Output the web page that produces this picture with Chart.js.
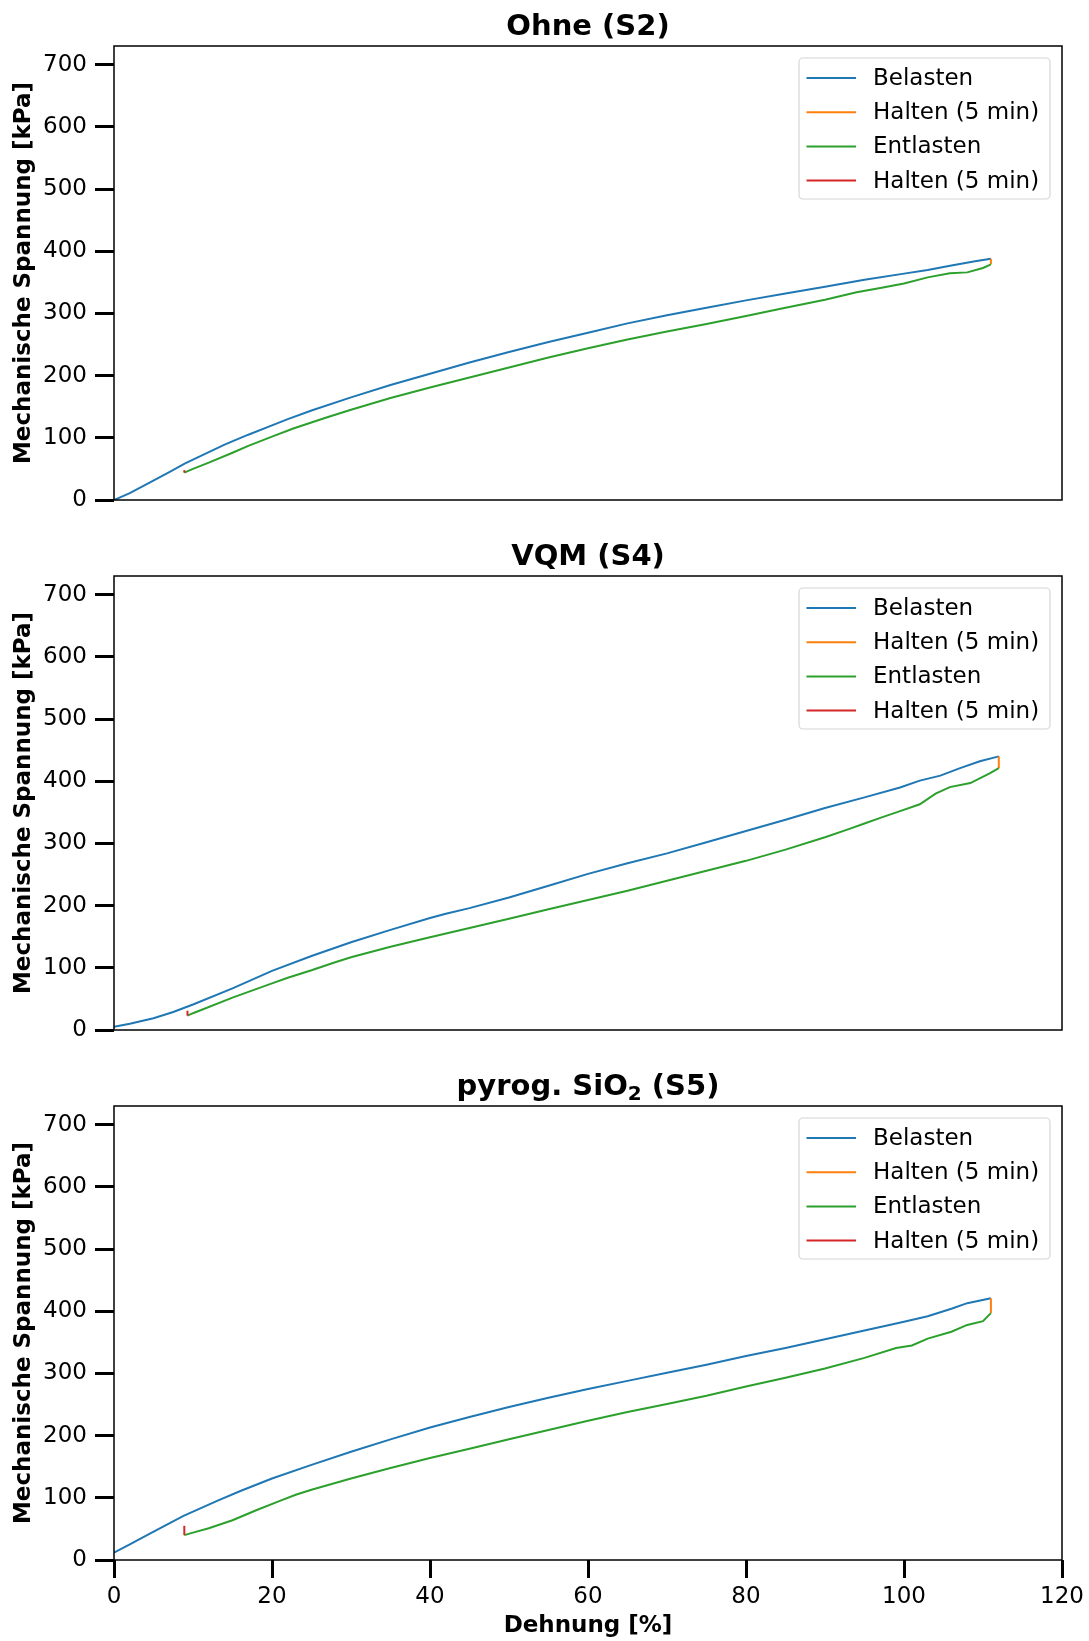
<!DOCTYPE html>
<html>
<head>
<meta charset="utf-8">
<script src="https://cdn.jsdelivr.net/npm/chart.js@4.4.1/dist/chart.umd.min.js"></script>
<style>
  html, body { margin: 0; padding: 0; background: #fff; }
  body { width: 1089px; height: 1641px; position: relative; overflow: hidden; }
  canvas { position: absolute; left: 0; }
</style>
</head>
<body>
<canvas id="s2" width="1089" height="530" style="top:0px"></canvas>
<canvas id="s4" width="1089" height="530" style="top:530px"></canvas>
<canvas id="s5" width="1089" height="581" style="top:1060px"></canvas>
<script>
const seriesNames = ["Belasten", "Halten (5 min)", "Entlasten", "Halten (5 min)"];
const seriesColors = ["#1f77b4", "#ff7f0e", "#2ca02c", "#d62728"];
const xTicks = [0, 20, 40, 60, 80, 100, 120];
const yTicks = [0, 100, 200, 300, 400, 500, 600, 700];

// Ohne (S2)
const s2LoadStrain = [0, 2, 4.5, 7, 9, 11, 14, 17, 20, 22, 25, 30, 35, 40, 45, 50, 55, 60, 65, 70, 75, 80, 85, 90, 95, 100, 103, 106, 109, 111];
const s2LoadStress = [0, 11, 28, 45, 59, 71, 89, 105, 120, 130, 144, 165, 185, 203, 221, 238, 254, 269, 284, 297, 309, 321, 332, 343, 354, 364, 370, 377, 384, 388];
const s2HoldTopStrain = [111, 111];
const s2HoldTopStress = [388, 379];
const s2UnloadStrain = [111, 110, 108, 105.8, 103, 100, 97, 94, 90, 85, 80, 75, 70, 65, 60, 55, 50, 45, 40, 35, 30, 26.5, 22.7, 20, 17, 15, 12, 10, 8.9];
const s2UnloadStress = [379, 373, 366, 364.5, 358, 348, 341, 334, 322, 309, 296, 283, 271, 258, 244, 229, 213, 197, 181, 164, 145, 131, 115, 102, 87, 76, 60, 50, 44];
const s2HoldEndStrain = [8.9, 8.9];
const s2HoldEndStress = [44, 48];

// VQM (S4)
const s4LoadStrain = [0, 2, 5, 7.5, 10, 15, 20, 25, 30, 35, 40, 42, 45, 50, 55, 60, 65, 70, 75, 80, 85, 90, 95, 99.5, 102, 104.6, 107.1, 109.6, 112];
const s4LoadStress = [5, 10, 19, 29, 41, 67, 95, 119, 141, 161, 180, 187, 196, 213, 232, 251, 268, 284, 302, 320, 338, 357, 374, 390, 401, 409, 421, 432, 440];
const s4HoldTopStrain = [112, 112];
const s4HoldTopStress = [440, 421];
const s4UnloadStrain = [112, 110.9, 108.4, 105.8, 104, 102, 99.5, 97, 95, 93, 90, 85, 80, 75, 70, 65, 60, 55, 50, 45, 40, 35, 30, 28, 25, 22, 20, 15, 10, 9.3];
const s4UnloadStress = [421, 413, 397, 390.5, 380, 363, 352, 341, 332, 323, 310, 290, 272, 256, 240, 224, 209, 194, 179, 164, 149, 134, 117, 109, 96, 84, 75, 52, 27, 23];
const s4HoldEndStrain = [9.3, 9.3];
const s4HoldEndStress = [23, 31];

// pyrog. SiO2 (S5)
const s5LoadStrain = [0, 2, 4.6, 8.8, 13.2, 16, 20, 25, 30, 35, 40, 45, 50, 55, 60, 65, 70, 75, 80, 85, 90, 95, 100, 103, 106, 108, 111];
const s5LoadStress = [12, 25, 43, 71, 96, 111, 131, 153, 174, 194, 213, 230, 246, 261, 275, 288, 301, 314, 328, 341, 355, 369, 383, 392, 404, 413, 421];
const s5HoldTopStrain = [111, 111];
const s5HoldTopStress = [421, 397];
const s5UnloadStrain = [111, 110, 108, 106, 103, 101, 99, 95, 90, 85, 80, 75, 70, 65, 60, 55, 50, 45, 40, 35, 30, 25, 23, 21, 18, 15, 12, 10, 8.9];
const s5UnloadStress = [397, 384, 378, 367, 356, 345, 341, 325, 308, 293, 279, 264, 251, 238, 224, 209, 194, 179, 164, 148, 131, 113, 105, 95, 80, 64, 51, 44, 40];
const s5HoldEndStrain = [8.9, 8.9];
const s5HoldEndStress = [40, 55];

const FONT = "'DejaVu Sans', sans-serif";

function points(xs, ys) {
  return xs.map((x, i) => ({ x: x, y: ys[i] }));
}

function makeDatasets(parts) {
  return parts.map((p, i) => ({
    label: seriesNames[i],
    data: points(p[0], p[1]),
    borderColor: seriesColors[i],
    backgroundColor: seriesColors[i],
    borderWidth: 2,
    pointRadius: 0,
    tension: 0,
    fill: false,
    order: 4 - i,
  }));
}

// axes title above the plot, centred on the plot area; "_x" pieces are subscripts
const panelTitle = {
  id: "panelTitle",
  afterDraw(chart, args, opts) {
    const { ctx, chartArea } = chart;
    const big = "bold 29px " + FONT;
    const small = "bold 20px " + FONT;
    const pieces = opts.text.split("|").map((t) => t.startsWith("_") ? { t: t.slice(1), sub: true } : { t: t, sub: false });
    ctx.save();
    ctx.fillStyle = "#000";
    ctx.textBaseline = "alphabetic";
    ctx.textAlign = "left";
    let total = 0;
    pieces.forEach((p) => { ctx.font = p.sub ? small : big; p.w = ctx.measureText(p.t).width; total += p.w; });
    let x = (chartArea.left + chartArea.right) / 2 - total / 2;
    const base = chartArea.top - 11;
    pieces.forEach((p) => {
      ctx.font = p.sub ? small : big;
      ctx.fillText(p.t, x, p.sub ? base + 5 : base);
      x += p.w;
    });
    ctx.restore();
  },
};

// four spines like matplotlib
const frame = {
  id: "frame",
  afterDatasetsDraw(chart) {
    const { ctx, chartArea } = chart;
    ctx.save();
    ctx.strokeStyle = "#000";
    ctx.lineWidth = 1.5;
    ctx.strokeRect(chartArea.left, chartArea.top, chartArea.right - chartArea.left, chartArea.bottom - chartArea.top);
    ctx.restore();
  },
};

// legend box in the upper right corner
const boxLegend = {
  id: "boxLegend",
  afterDraw(chart) {
    const { ctx, chartArea } = chart;
    const w = 251, h = 141;
    const x0 = chartArea.right - 12 - w;
    const y0 = chartArea.top + 12;
    ctx.save();
    ctx.beginPath();
    ctx.roundRect(x0, y0, w, h, 4);
    ctx.fillStyle = "rgba(255,255,255,0.8)";
    ctx.fill();
    ctx.strokeStyle = "#d6d6d6";
    ctx.lineWidth = 1.2;
    ctx.stroke();
    ctx.font = "23px " + FONT;
    ctx.textBaseline = "middle";
    ctx.textAlign = "left";
    chart.data.datasets.forEach((ds, i) => {
      const y = y0 + 20 + i * 34.2;
      ctx.beginPath();
      ctx.moveTo(x0 + 7.5, y);
      ctx.lineTo(x0 + 57, y);
      ctx.strokeStyle = ds.borderColor;
      ctx.lineWidth = 2;
      ctx.stroke();
      ctx.fillStyle = "#000";
      ctx.fillText(ds.label, x0 + 74, y + 1);
    });
    ctx.restore();
  },
};

function makeChart(id, title, parts, showX) {
  const xScale = {
    type: "linear",
    min: 0,
    max: 120,
    border: { display: false },
    afterBuildTicks: (s) => { s.ticks = xTicks.map((v) => ({ value: v })); },
    afterFit: (s) => { s.height = showX ? 81 : 30; },
  };
  if (showX) {
    xScale.grid = { drawOnChartArea: false, drawTicks: true, tickLength: 18, tickWidth: 3, tickColor: "#000" };
    xScale.ticks = { color: "#000", padding: 5, maxRotation: 0, font: { family: FONT, size: 23 } };
    xScale.title = {
      display: true,
      text: "Dehnung [%]",
      color: "#000",
      padding: { top: 0, bottom: 1 },
      font: { family: FONT, size: 23, weight: "bold" },
    };
  } else {
    xScale.grid = { display: false };
    xScale.ticks = { display: false };
  }

  return new Chart(document.getElementById(id), {
    type: "line",
    data: { datasets: makeDatasets(parts) },
    plugins: [frame, panelTitle, boxLegend],
    options: {
      responsive: false,
      animation: false,
      layout: { padding: { top: 46, right: 27, left: 0, bottom: 0 } },
      plugins: {
        legend: { display: false },
        tooltip: { enabled: false },
        panelTitle: { text: title },
      },
      scales: {
        x: xScale,
        y: {
          type: "linear",
          min: 0,
          max: 730,
          border: { display: false },
          grid: { drawOnChartArea: false, drawTicks: true, tickLength: 19, tickWidth: 3, tickColor: "#000" },
          ticks: { color: "#000", padding: 8, font: { family: FONT, size: 23 } },
          afterBuildTicks: (s) => { s.ticks = yTicks.map((v) => ({ value: v })); },
          afterFit: (s) => { s.width = 114; },
          title: {
            display: true,
            text: "Mechanische Spannung [kPa]",
            color: "#000",
            padding: { top: 10, bottom: 0 },
            font: { family: FONT, size: 23, weight: "bold" },
          },
        },
      },
    },
  });
}

makeChart("s2", "Ohne (S2)", [
  [s2LoadStrain, s2LoadStress],
  [s2HoldTopStrain, s2HoldTopStress],
  [s2UnloadStrain, s2UnloadStress],
  [s2HoldEndStrain, s2HoldEndStress],
], false);

makeChart("s4", "VQM (S4)", [
  [s4LoadStrain, s4LoadStress],
  [s4HoldTopStrain, s4HoldTopStress],
  [s4UnloadStrain, s4UnloadStress],
  [s4HoldEndStrain, s4HoldEndStress],
], false);

makeChart("s5", "pyrog. SiO|_2| (S5)", [
  [s5LoadStrain, s5LoadStress],
  [s5HoldTopStrain, s5HoldTopStress],
  [s5UnloadStrain, s5UnloadStress],
  [s5HoldEndStrain, s5HoldEndStress],
], true);
</script>
</body>
</html>
